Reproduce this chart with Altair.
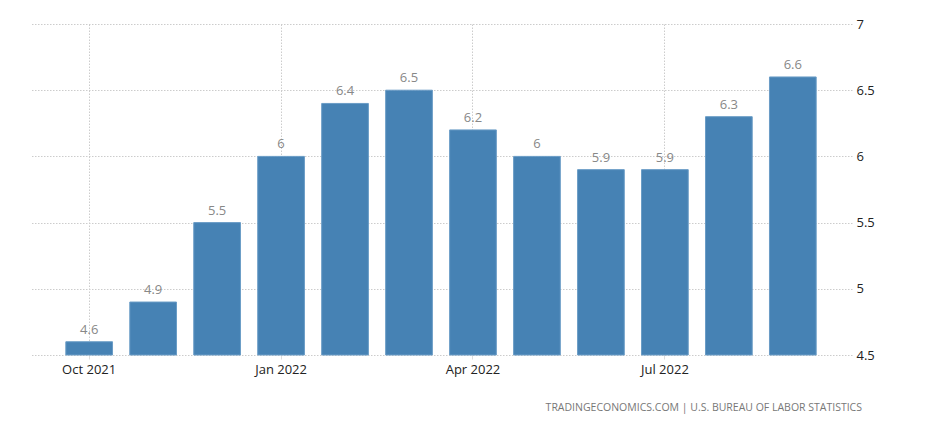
import altair as alt
import pandas as pd

months = ["Oct 2021", "Nov 2021", "Dec 2021", "Jan 2022", "Feb 2022", "Mar 2022",
          "Apr 2022", "May 2022", "Jun 2022", "Jul 2022", "Aug 2022", "Sep 2022"]
values = [4.6, 4.9, 5.5, 6.0, 6.4, 6.5, 6.2, 6.0, 5.9, 5.9, 6.3, 6.6]
labels = ["4.6", "4.9", "5.5", "6", "6.4", "6.5", "6.2", "6", "5.9", "5.9", "6.3", "6.6"]
tick_months = ["Oct 2021", "Jan 2022", "Apr 2022", "Jul 2022"]
y_ticks = [4.5, 5, 5.5, 6, 6.5, 7]
source = "TRADINGECONOMICS.COM  |  U.S. BUREAU OF LABOR STATISTICS"

df = pd.DataFrame({"month": months, "value": values, "label": labels})

x = alt.X("month:N", sort=months, title=None,
          scale=alt.Scale(paddingInner=0.27, paddingOuter=0.56),
          axis=alt.Axis(values=tick_months, labelAngle=0, domain=False, ticks=True,
                        tickSize=4, tickColor="#dddddd", labelPadding=4, tickExtra=False,
                        labelFont="Open Sans", labelFontSize=13, labelColor="#222222",
                        grid=True, gridColor="#cccccc", gridDash=[1.5, 1.5], bandPosition=0.5))
y = alt.Y("value:Q", title=None,
          scale=alt.Scale(domain=[4.5, 7], nice=False, zero=False),
          axis=alt.Axis(orient="right", values=y_ticks, domain=False, ticks=False, format="~g",
                        labelPadding=4, labelFont="Open Sans", labelFontSize=13,
                        labelColor="#222222", grid=True, gridColor="#cccccc",
                        gridDash=[1.5, 1.5]))

base = alt.Chart(df)
bars = base.mark_bar(color="#4682b4", stroke="#6a9cc6", strokeWidth=1).encode(x=x, y=y, y2=alt.datum(4.5))
text = base.mark_text(dy=-12, font="Open Sans", fontSize=13, color="#888888").encode(
    x=alt.X("month:N", sort=months), y="value:Q", text="label:N")
src = alt.Chart(pd.DataFrame({"t": [source]})).mark_text(
    align="right", baseline="middle", font="Open Sans", fontSize=10.5, color="#777777"
).encode(x=alt.value(832), y=alt.value(384), text="t:N")

chart = alt.layer(bars, text, src).properties(
    width=822, height=331,
    background="white",
    autosize=alt.AutoSizeParams(type="none"),
    padding={"left": 22, "top": 16, "right": 80, "bottom": 61},
).configure_view(strokeWidth=0, stroke=None)

chart.save("out.html", embed_options={"renderer": "svg", "actions": False})
